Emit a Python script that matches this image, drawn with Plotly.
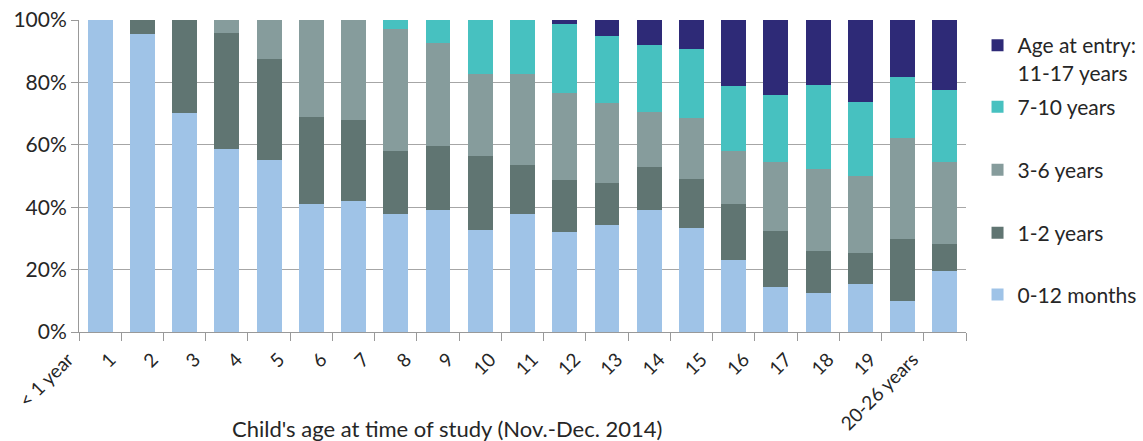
import plotly.graph_objects as go

# Child's age at time of study (categories on the x axis)
ages = ["< 1 year", "1", "2", "3", "4", "5", "6", "7", "8", "9", "10",
        "11", "12", "13", "14", "15", "16", "17", "18", "19", "20-26 years"]

# Share of children (%) by age at entry into care
entry_0_12_months = [100.0, 95.4, 70.1, 58.5, 55.0, 40.9, 41.9, 37.7, 39.0, 32.6, 37.7,
                     31.9, 34.2, 39.0, 33.2, 23.0, 14.3, 12.4, 15.3, 9.8, 19.4]
entry_1_2_years = [0.0, 4.6, 29.9, 37.2, 32.4, 27.9, 25.9, 20.2, 20.5, 23.7, 15.7,
                   16.7, 13.4, 13.8, 15.7, 17.9, 18.0, 13.5, 9.9, 19.9, 8.7]
entry_3_6_years = [0.0, 0.0, 0.0, 4.3, 12.6, 31.2, 32.2, 39.1, 33.0, 26.4, 29.3,
                   27.9, 25.7, 17.7, 19.7, 17.0, 22.1, 26.2, 24.7, 32.5, 26.3]
entry_7_10_years = [0.0, 0.0, 0.0, 0.0, 0.0, 0.0, 0.0, 3.0, 7.5, 17.3, 17.3,
                    22.1, 21.5, 21.4, 22.0, 20.8, 21.5, 27.0, 23.7, 19.4, 23.1]
entry_11_17_years = [0.0, 0.0, 0.0, 0.0, 0.0, 0.0, 0.0, 0.0, 0.0, 0.0, 0.0,
                     1.4, 5.2, 8.1, 9.4, 21.3, 24.1, 20.9, 26.4, 18.4, 22.5]

series_names = ["0-12 months", "1-2 years", "3-6 years", "7-10 years",
                "Age at entry:<br>11-17 years"]
series_values = [entry_0_12_months, entry_1_2_years, entry_3_6_years,
                 entry_7_10_years, entry_11_17_years]

# Y axis ticks
y_ticks = [0, 20, 40, 60, 80, 100]
y_tick_labels = ["0%", "20%", "40%", "60%", "80%", "100%"]

# Styling
colors = ["#9fc3e7", "#607572", "#869c9c", "#47c1c0", "#2e2a77"]
legend_ids = ["legend5", "legend4", "legend3", "legend2", "legend"]
legend_y = [0.119, 0.317, 0.519, 0.721, 0.875]
font_family = "Lato, 'Open Sans', sans-serif"
text_color = "#262626"
grid_color = "#a6a6a6"

positions = list(range(len(ages)))

fig = go.Figure()
for name, values, color, lid in zip(series_names, series_values, colors, legend_ids):
    fig.add_trace(go.Bar(
        x=positions,
        y=values,
        name=name,
        marker=dict(color=color, line=dict(width=0)),
        width=0.59,
        legend=lid,
    ))

legend_style = dict(
    x=1.013, xanchor="left", yanchor="middle",
    bgcolor="rgba(0,0,0,0)", borderwidth=0, valign="top",
    font=dict(family=font_family, size=21, color=text_color),
)
layout_legends = {lid: dict(legend_style, y=y) for lid, y in zip(legend_ids, legend_y)}

# Tick labels sit on the category boundaries
tick_positions = [p - 0.5 for p in positions] + [len(ages) - 0.5]
tick_labels = ages + [""]

fig.update_layout(
    width=1143,
    height=441,
    margin=dict(l=79, r=177, t=20, b=109, autoexpand=False),
    paper_bgcolor="white",
    plot_bgcolor="white",
    barmode="stack",
    showlegend=True,
    font=dict(family=font_family, size=19, color=text_color),
    xaxis=dict(
        range=[-0.5, len(ages) - 0.5],
        tickmode="array",
        tickvals=tick_positions,
        ticktext=tick_labels,
        tickangle=-45,
        ticklabelshift=-11,
        ticks="outside",
        ticklen=8,
        tickcolor="#999999",
        showline=True,
        linecolor="#999999",
        linewidth=1,
        showgrid=False,
        zeroline=False,
        automargin=False,
        tickfont=dict(family=font_family, size=19, color=text_color),
    ),
    yaxis=dict(
        range=[0, 100],
        tickmode="array",
        tickvals=y_ticks,
        ticktext=y_tick_labels,
        ticks="outside",
        ticklen=7,
        tickcolor="#999999",
        showline=True,
        linecolor="#999999",
        linewidth=1,
        showgrid=True,
        gridcolor=grid_color,
        gridwidth=1,
        zeroline=False,
        automargin=False,
        tickfont=dict(family=font_family, size=21, color=text_color),
    ),
    annotations=[dict(
        text="Child's age at time of study (Nov.-Dec. 2014)",
        xref="paper", yref="paper",
        x=0.415, y=-0.309,
        xanchor="center", yanchor="middle",
        showarrow=False,
        font=dict(family=font_family, size=22, color=text_color),
    )],
    **layout_legends,
)

fig.write_html("out.html")
